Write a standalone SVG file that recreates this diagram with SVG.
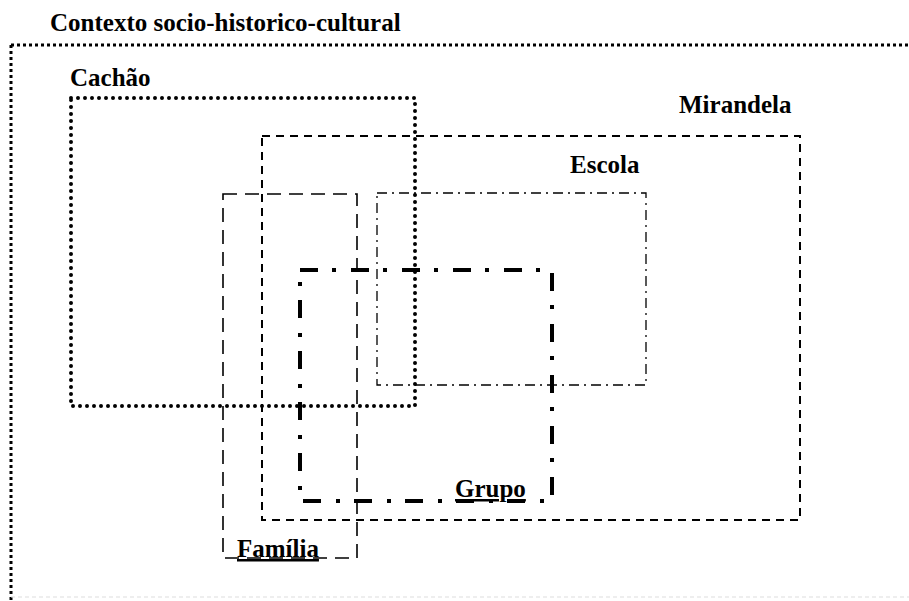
<svg xmlns="http://www.w3.org/2000/svg" width="909" height="601" viewBox="0 0 909 601">
  <style>
    text { font-family: 'Liberation Serif', 'DejaVu Serif', serif; font-weight: bold; font-size: 25px; fill: #000; }
    .u { text-decoration: underline; }
    rect { fill: none; stroke: #000; }
  </style>
  <rect x="0" y="0" width="909" height="601" style="fill:#fff;stroke:none"/>

  <!-- outer context frame -->
  <g id="contexto">
    <text x="50" y="31" font-size="25.6">Contexto socio-historico-cultural</text>
    <path d="M11 45 H909 M11 45 V601" fill="none" stroke="#000" stroke-width="3" stroke-dasharray="3 3"/>
    <path d="M11 597 H909" fill="none" stroke="#ddd" stroke-width="1" stroke-dasharray="4 3"/>
  </g>

  <g id="cachao">
    <text x="70" y="86" font-size="25.7">Cachão</text>
    <rect x="71" y="98" width="344" height="308" stroke-width="4" stroke-linecap="round" stroke-dasharray="0 7"/>
  </g>

  <g id="mirandela">
    <text x="679" y="113">Mirandela</text>
    <rect x="262" y="136" width="538" height="384" stroke-width="2" stroke-dasharray="8 6"/>
  </g>

  <g id="escola">
    <text x="570" y="173">Escola</text>
    <rect x="377" y="193" width="269" height="192" stroke-width="1.3" stroke-dasharray="10 5 2 5"/>
  </g>

  <g id="familia">
    <rect x="223" y="194" width="134" height="364" stroke-width="1.6" stroke-dasharray="14 8"/>
    <text class="u" x="237" y="557">Família</text>
  </g>

  <g id="grupo">
    <rect x="300" y="270" width="252" height="231" stroke-width="4" stroke-dasharray="18 14 4 15"/>
    <text class="u" x="455" y="497">Grupo</text>
  </g>
</svg>
